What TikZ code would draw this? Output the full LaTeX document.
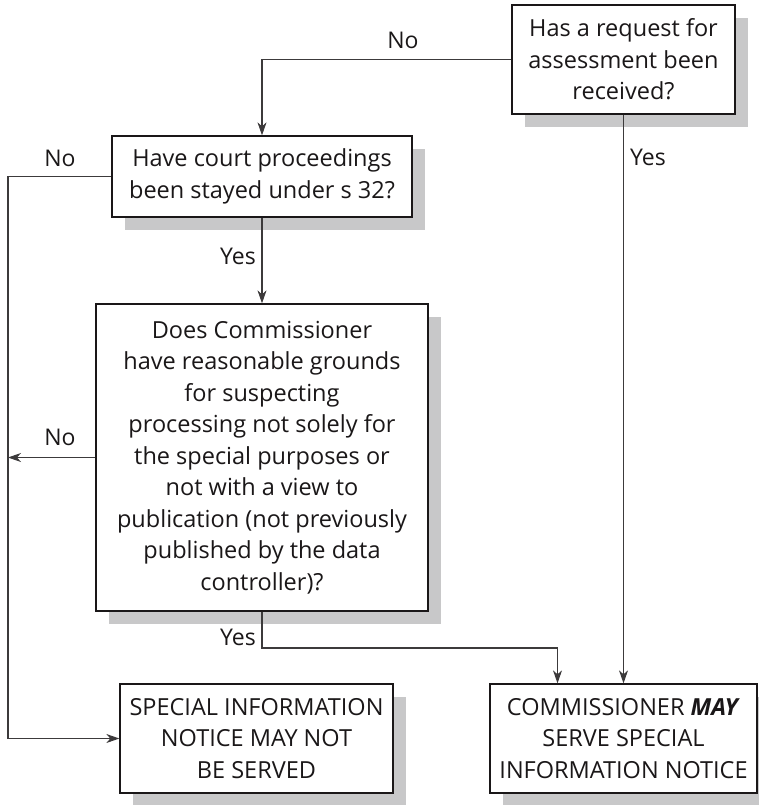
\documentclass[tikz,border=0pt]{standalone}
\usepackage{fontspec}
\setmainfont{Open Sans}
\usetikzlibrary{arrows.meta,shadows}
\definecolor{shade}{HTML}{C8C8C9}
\definecolor{ink}{HTML}{1A1718}
\begin{document}
\begin{tikzpicture}[x={(1pt,0pt)},y={(0pt,-1pt)},
  box/.style={draw=ink, line width=1.3pt, fill=white, inner sep=0pt,
    align=center, text=ink, font=\fontsize{23.5}{31.5}\selectfont,
    drop shadow={shadow xshift=13pt, shadow yshift=-13pt, fill=shade, opacity=1}},
  link/.style={draw=ink!85, line width=1.1pt,
    -{Stealth[length=13pt,width=9pt,inset=4pt]}},
  lbl/.style={font=\fontsize{23}{26}\selectfont, text=ink, inner sep=0pt}]
\useasboundingbox (0,0) rectangle (759,805);

% decision and outcome boxes
\node[box, minimum width=223pt, minimum height=109pt] (q1) at (623.5,59.5)
  {Has a request for\\assessment been\\received?};
\node[box, minimum width=300pt, minimum height=81pt] (q2) at (262,176.5)
  {Have court proceedings\\been stayed under s 32?};
\node[box, minimum width=332pt, minimum height=307pt] (q3) at (262,457.5)
  {Does Commissioner\\have reasonable grounds\\for suspecting\\processing not solely for\\the special purposes or\\not with a view to\\publication (not previously\\published by the data\\controller)?};
\node[box, minimum width=273pt, minimum height=109pt] (q4) at (256.5,738.5)
  {SPECIAL INFORMATION\\NOTICE MAY NOT\\BE SERVED};
\node[box, minimum width=267pt, minimum height=109pt] (q5) at (623.5,738.5)
  {COMMISSIONER \textbf{\textit{MAY}}\\SERVE SPECIAL\\INFORMATION NOTICE};

% routing helpers
\coordinate (rail) at (8,0);
\coordinate (yesrow) at (0,648);
\coordinate (in5) at ([xshift=-66pt]q5.north);

% connectors
\draw[link] (q1.west) -| (q2.north);
\draw[link] (q2.south) -- (q3.north);
\draw[link] (q2.west) -- (q2.west -| rail) -- (q4.west -| rail) -- (q4.west);
\draw[link] (q3.west) -- (q3.west -| rail);
\draw[link] (q3.south) -- (q3.south |- yesrow) -| (in5);
\draw[link] (q1.south) -- (q5.north);

% branch labels
\node[lbl] (no1) at (403,40) {No};
\node[lbl] (no2) at (60,158) {No};
\node[lbl] (no3) at (60,437) {No};
\node[lbl] (yes1) at (648,157) {Yes};
\node[lbl] (yes2) at (238,256) {Yes};
\node[lbl] (yes3) at (238,637) {Yes};
\end{tikzpicture}
\end{document}
